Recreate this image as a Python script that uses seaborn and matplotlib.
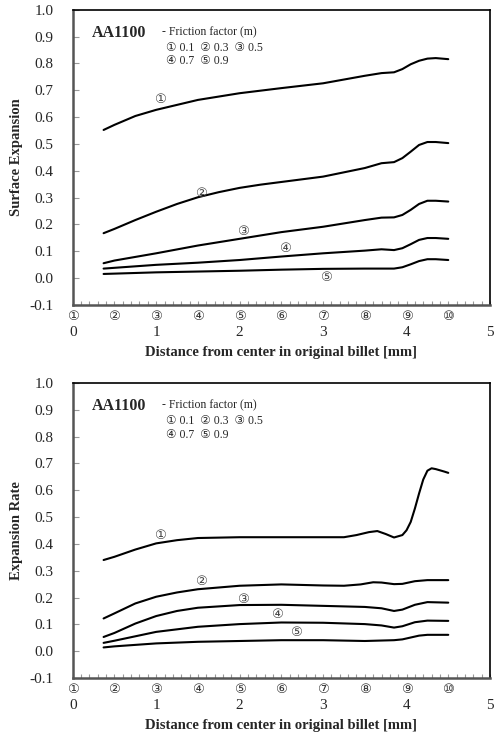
import numpy as np
import pandas as pd
import matplotlib
matplotlib.use("Agg")
import matplotlib.pyplot as plt
import seaborn as sns

# ---------------- data ----------------
friction = ["0.1", "0.3", "0.5", "0.7", "0.9"]
circled = ["①", "②", "③", "④", "⑤", "⑥", "⑦", "⑧", "⑨", "⑩"]
circle_pos = [0, 0.5, 1, 1.5, 2, 2.5, 3, 3.5, 4, 4.5]

# Surface expansion
se_x1 = [0.37, 0.5, 0.75, 1.0, 1.5, 2.0, 2.5, 3.0, 3.5, 3.7, 3.85, 3.95, 4.05, 4.15, 4.25, 4.35, 4.5]
se_y1 = [0.552, 0.571, 0.604, 0.627, 0.664, 0.689, 0.708, 0.726, 0.754, 0.764, 0.767, 0.779, 0.797, 0.81, 0.818, 0.82, 0.816]
se_x2 = [0.37, 0.5, 0.75, 1.0, 1.25, 1.5, 1.75, 2.0, 2.25, 2.5, 3.0, 3.5, 3.7, 3.85, 3.95, 4.05, 4.15, 4.25, 4.35, 4.5]
se_y2 = [0.167, 0.183, 0.216, 0.247, 0.276, 0.301, 0.32, 0.336, 0.348, 0.358, 0.378, 0.41, 0.428, 0.432, 0.447, 0.471, 0.496, 0.507, 0.507, 0.503]
se_x3 = [0.37, 0.5, 1.0, 1.5, 2.0, 2.5, 3.0, 3.5, 3.7, 3.85, 3.95, 4.05, 4.15, 4.25, 4.35, 4.5]
se_y3 = [0.055, 0.065, 0.092, 0.121, 0.146, 0.171, 0.191, 0.216, 0.225, 0.226, 0.235, 0.254, 0.276, 0.288, 0.288, 0.285]
se_x4 = [0.37, 1.0, 1.5, 2.0, 2.5, 3.0, 3.5, 3.7, 3.85, 3.95, 4.05, 4.15, 4.25, 4.35, 4.5]
se_y4 = [0.035, 0.049, 0.057, 0.067, 0.08, 0.092, 0.102, 0.107, 0.104, 0.111, 0.126, 0.142, 0.149, 0.149, 0.146]
se_x5 = [0.37, 1.0, 2.0, 2.5, 3.0, 3.5, 3.7, 3.85, 3.95, 4.05, 4.15, 4.25, 4.35, 4.5]
se_y5 = [0.015, 0.021, 0.027, 0.031, 0.034, 0.035, 0.035, 0.035, 0.04, 0.051, 0.063, 0.07, 0.07, 0.067]

# Expansion rate
er_x1 = [0.37, 0.5, 0.75, 1.0, 1.25, 1.5, 2.0, 2.5, 3.0, 3.25, 3.4, 3.55, 3.65, 3.75, 3.85, 3.95, 4.0, 4.05, 4.1, 4.15, 4.2, 4.25, 4.3, 4.35, 4.45, 4.5]
er_y1 = [0.34, 0.352, 0.379, 0.402, 0.414, 0.422, 0.425, 0.425, 0.425, 0.425, 0.433, 0.444, 0.448, 0.437, 0.424, 0.433, 0.451, 0.482, 0.532, 0.588, 0.64, 0.673, 0.682, 0.679, 0.67, 0.665]
er_x2 = [0.37, 0.5, 0.75, 1.0, 1.25, 1.5, 2.0, 2.5, 3.0, 3.25, 3.45, 3.6, 3.7, 3.85, 3.95, 4.1, 4.25, 4.5]
er_y2 = [0.122, 0.141, 0.178, 0.203, 0.219, 0.231, 0.244, 0.249, 0.245, 0.244, 0.249, 0.257, 0.256, 0.25, 0.251, 0.261, 0.265, 0.265]
er_x3 = [0.37, 0.5, 0.75, 1.0, 1.25, 1.5, 2.0, 2.5, 3.0, 3.5, 3.7, 3.85, 3.95, 4.1, 4.25, 4.5]
er_y3 = [0.053, 0.068, 0.103, 0.131, 0.15, 0.162, 0.172, 0.173, 0.169, 0.165, 0.16, 0.15, 0.155, 0.173, 0.183, 0.181]
er_x4 = [0.37, 0.5, 1.0, 1.5, 2.0, 2.5, 3.0, 3.5, 3.7, 3.85, 3.95, 4.1, 4.25, 4.5]
er_y4 = [0.031, 0.039, 0.072, 0.091, 0.101, 0.107, 0.106, 0.101, 0.096, 0.088, 0.093, 0.108, 0.114, 0.113]
er_x5 = [0.37, 0.5, 1.0, 1.5, 2.0, 2.5, 3.0, 3.5, 3.85, 3.95, 4.05, 4.15, 4.25, 4.5]
er_y5 = [0.014, 0.018, 0.029, 0.035, 0.038, 0.041, 0.041, 0.038, 0.041, 0.044, 0.051, 0.058, 0.061, 0.061]

# curve label positions (x, y)
se_lab_x = [1.04, 1.54, 2.04, 2.54, 3.04]
se_lab_y = [0.664, 0.316, 0.175, 0.109, 0.003]
er_lab_x = [1.04, 1.54, 2.04, 2.45, 2.67]
er_lab_y = [0.433, 0.261, 0.194, 0.136, 0.07]

xticks = [0, 1, 2, 3, 4, 5]
yticks = [-0.1, 0.0, 0.1, 0.2, 0.3, 0.4, 0.5, 0.6, 0.7, 0.8, 0.9, 1.0]


def long_df(xs, ys):
    frames = []
    for i, (x, y) in enumerate(zip(xs, ys)):
        frames.append(pd.DataFrame({"x": x, "y": y, "m": friction[i]}))
    return pd.concat(frames, ignore_index=True)


se_df = long_df([se_x1, se_x2, se_x3, se_x4, se_x5], [se_y1, se_y2, se_y3, se_y4, se_y5])
er_df = long_df([er_x1, er_x2, er_x3, er_x4, er_x5], [er_y1, er_y2, er_y3, er_y4, er_y5])

# ---------------- style ----------------
sns.set_style("white")
plt.rcParams["font.family"] = ["Liberation Serif", "DejaVu Sans"]

SERIF = ["Liberation Serif", "DejaVu Sans"]
CIRC = ["DejaVu Sans"]

fig = plt.figure(figsize=(4.96, 7.38), dpi=100)
ax1 = fig.add_axes([0.1466, 0.587, 0.8413, 0.3997])
ax2 = fig.add_axes([0.1466, 0.0813, 0.8413, 0.3997])


def style(ax, df, ylabel, labx, laby):
    sns.lineplot(data=df, x="x", y="y", hue="m", palette=["black"] * 5,
                 estimator=None, sort=False, legend=False, lw=1.5, ax=ax)
    ax.set_xlim(0, 5)
    ax.set_ylim(-0.1, 1.0)
    ax.set_xticks(xticks)
    ax.set_xticklabels([str(t) for t in xticks], fontsize=11, family=SERIF)
    ax.set_xticks(np.arange(0, 5.01, 0.1), minor=True)
    ax.set_yticks(yticks)
    ax.set_yticklabels([f"{t:.1f}" for t in yticks], fontsize=11, family=SERIF)
    ax.tick_params(axis="x", which="both", direction="in", length=3, width=0.8,
                   color="#999999", pad=15, bottom=True)
    ax.tick_params(axis="y", which="both", direction="in", length=4, width=0.8,
                   color="#999999", pad=14, left=True)
    for side in ["left", "bottom"]:
        ax.spines[side].set_color("#555555")
        ax.spines[side].set_linewidth(1.8)
    for side in ["top", "right"]:
        ax.spines[side].set_color("black")
        ax.spines[side].set_linewidth(1.2)
    ax.set_xlabel("Distance from center in original billet [mm]", fontsize=10.5,
                  fontweight="bold", family=SERIF, labelpad=5)
    ax.set_ylabel(ylabel, fontsize=10.5, fontweight="bold", family=SERIF)
    ax.yaxis.set_label_coords(-0.12, 0.5)
    # circled numbers under the axis
    tr = ax.get_xaxis_transform()
    for c, p in zip(circled, circle_pos):
        ax.text(p, -0.038, c, transform=tr, ha="center", va="center",
                fontsize=9.5, family=CIRC, color="#333333", clip_on=False)
    # curve labels
    for i in range(5):
        ax.text(labx[i], laby[i], circled[i], ha="center", va="center",
                fontsize=9.5, family=CIRC, color="#444444")
    # annotation
    ax.text(0.23, 0.914, "AA1100", fontsize=11.5, fontweight="bold",
            family=SERIF, ha="left", va="center")
    ax.text(1.07, 0.918, "- Friction factor (m)", fontsize=8.5, family=SERIF,
            ha="left", va="center")
    ax.text(1.12, 0.857, "① 0.1  ② 0.3  ③ 0.5", fontsize=8.5, family=SERIF,
            ha="left", va="center")
    ax.text(1.12, 0.808, "④ 0.7  ⑤ 0.9", fontsize=8.5, family=SERIF,
            ha="left", va="center")


style(ax1, se_df, "Surface Expansion", se_lab_x, se_lab_y)
style(ax2, er_df, "Expansion Rate", er_lab_x, er_lab_y)

fig.savefig("out.png", dpi=100)
